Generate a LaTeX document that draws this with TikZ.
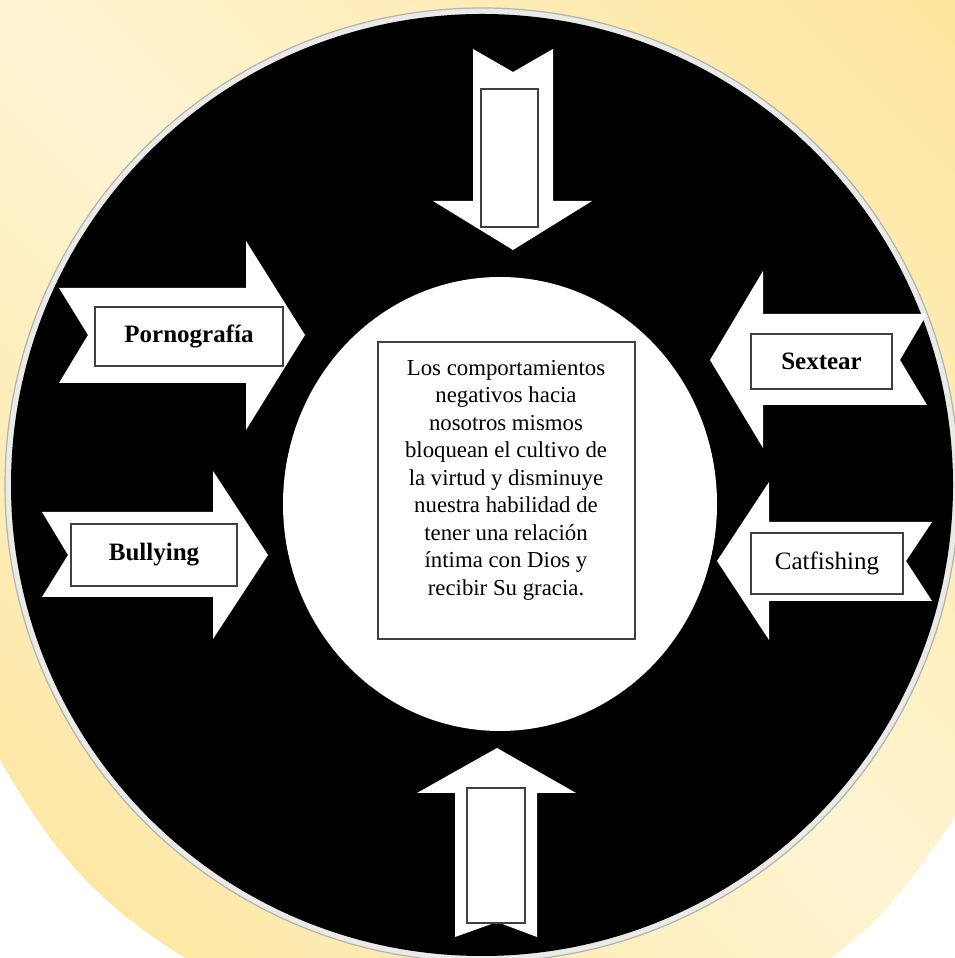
\documentclass[tikz,border=0pt]{standalone}
\usepackage{fontspec}
\setmainfont{Liberation Serif}
\definecolor{oro}{RGB}{253,229,156}
\definecolor{crema}{RGB}{254,244,210}
\definecolor{aro}{RGB}{234,234,231}
\pgfdeclarehorizontalshading{resplandor}{100bp}{color(0bp)=(oro); color(15bp)=(oro); color(50bp)=(crema); color(85bp)=(oro); color(100bp)=(oro)}
\begin{document}
\begin{tikzpicture}[x=1pt,y=1pt,
		flecha/.style = {fill=white,draw=none},
		caja/.style = {draw=black!75,line width=1.1pt,fill=white,inner sep=0pt},
		etiqueta/.style = {font=\fontsize{25}{30}\selectfont\bfseries}
		]
		\useasboundingbox (0,0) rectangle (955,958);
		\fill[white] (0,0) rectangle (955,958);
		%FONDO
		\shade[shading=resplandor,shading angle=45] (0,958) -- (955,958) -- (955,141) to[out=-125,in=36] (830,0) -- (185,0) to[out=148,in=-60] (0,198) -- cycle;
		%CERCHI
		\filldraw[fill=aro,draw=black!30,line width=1.2pt] (482,473) circle (477);
		\fill[black] (482,473) circle (471);
		\fill[white] (500,454) ellipse (217 and 227);
		%FRECCE
		\fill[flecha] (59,670) -- (246,670) -- (246,717) -- (305,623) -- (246,528) -- (246,575) -- (59,575) -- (88,623) -- cycle;
		\fill[flecha] (42,446) -- (213,446) -- (213,487) -- (268,403) -- (213,319) -- (213,361) -- (42,361) -- (68,403) -- cycle;
		\fill[flecha] (927,644) -- (763,644) -- (763,687) -- (710,598) -- (763,510) -- (763,553) -- (927,553) -- (900,598) -- cycle;
		\fill[flecha] (932,436) -- (769,436) -- (769,476) -- (717,397) -- (769,318) -- (769,357) -- (932,357) -- (906,397) -- cycle;
		\fill[flecha] (473,909) -- (513,886) -- (553,909) -- (553,757) -- (592,757) -- (513,708) -- (433,757) -- (473,757) -- cycle;
		\fill[flecha] (497,210) -- (576,165) -- (537,165) -- (537,21) -- (497,36) -- (455,21) -- (455,165) -- (417,165) -- cycle;
		%CAJAS
		\node[caja,etiqueta,minimum width=188pt,minimum height=59pt] (@porno) at (189,621.5) {Pornografía};
		\node[caja,etiqueta,minimum width=166pt,minimum height=62pt] (@bully) at (154,403) {Bullying};
		\node[caja,etiqueta,minimum width=141pt,minimum height=55pt] (@sext) at (821.5,596.5) {Sextear};
		\node[caja,font=\fontsize{25}{30}\selectfont,minimum width=152pt,minimum height=61pt] (@cat) at (827,394.5) {Catfishing};
		\node[caja,minimum width=57pt,minimum height=138pt] (@sup) at (509.5,800) {};
		\node[caja,minimum width=58pt,minimum height=135pt] (@inf) at (496,102.5) {};
		%CENTRO
		\node[caja,minimum width=257pt,minimum height=297pt] (@centro) at (506.5,467.5) {};
		\node[align=center,font=\fontsize{22.8}{27.5}\selectfont] (@texto) at (506,478) {Los comportamientos\\negativos hacia\\nosotros mismos\\bloquean el cultivo de\\la virtud y disminuye\\nuestra habilidad de\\tener una relación\\íntima con Dios y\\recibir Su gracia.};
	\end{tikzpicture}
\end{document}
